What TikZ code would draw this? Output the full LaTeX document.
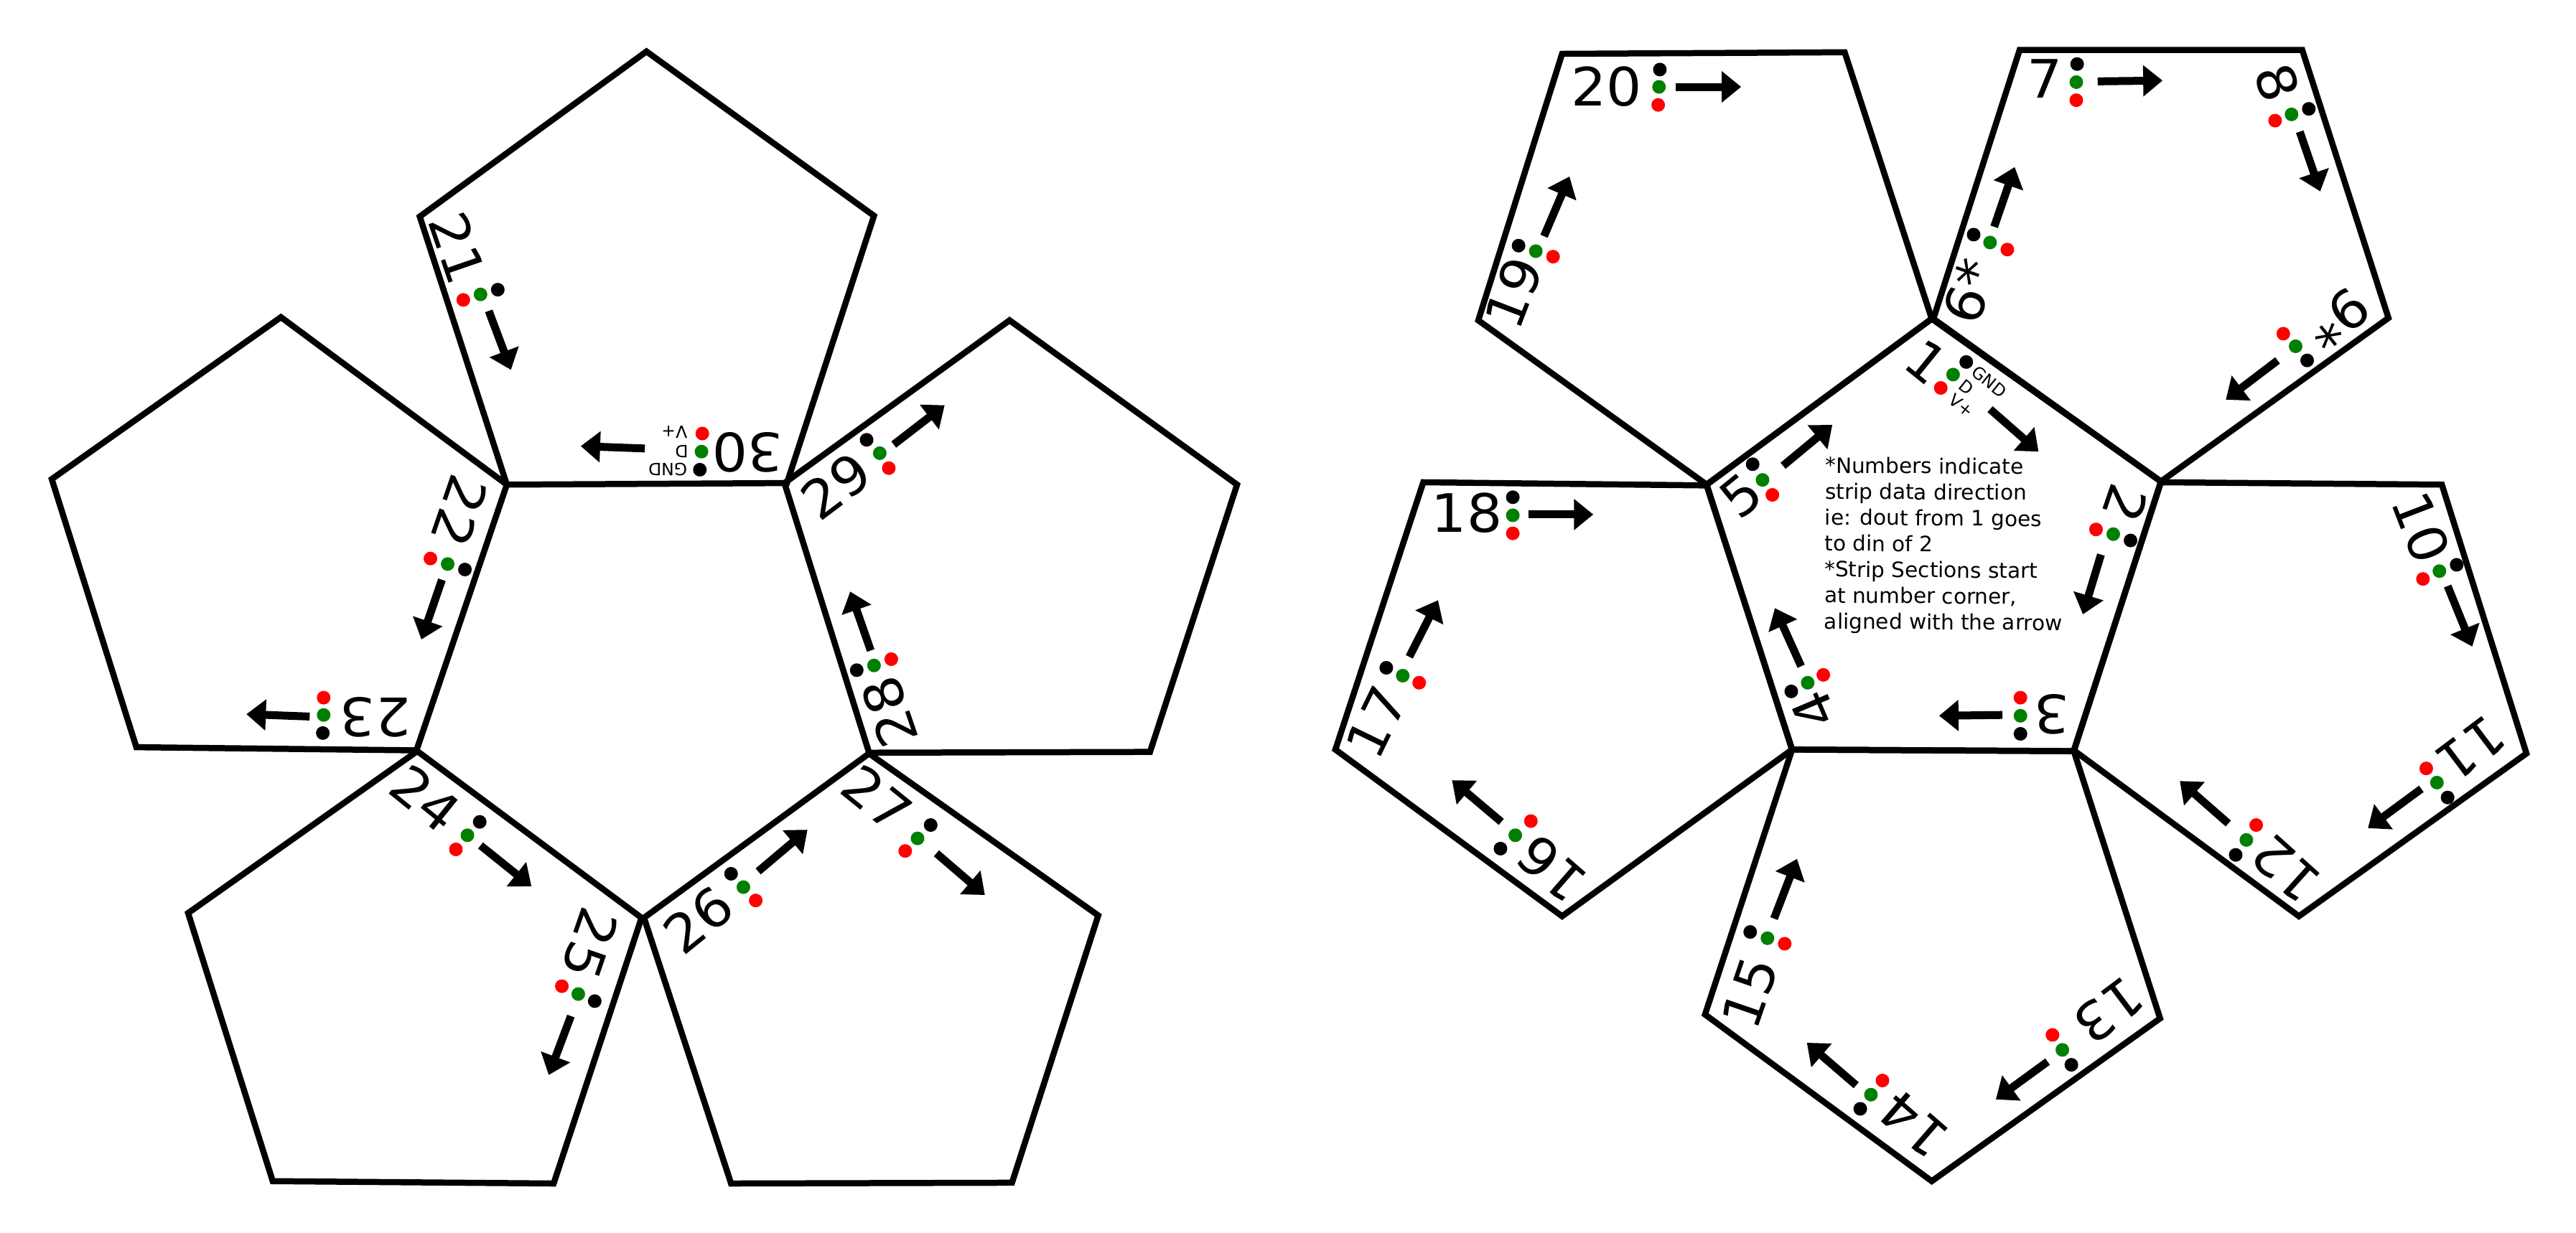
\documentclass[tikz,border=0pt]{standalone}
\usepackage{fontspec}
\setmainfont{DejaVu Sans}
\newfontfamily\numfont[FakeStretch=1.05]{DejaVu Sans}
\usetikzlibrary{arrows.meta}
\tikzset{
  pent/.style={draw=black,line width=0.085cm,line join=miter,fill=none},
  numtxt/.style={inner sep=0pt,font=\numfont\fontsize{21}{25}\selectfont},
  dotb/.style={circle,inner sep=0pt,minimum size=0.19cm,fill=black},
  dotg/.style={circle,inner sep=0pt,minimum size=0.19cm,fill=green!50!black},
  dotr/.style={circle,inner sep=0pt,minimum size=0.19cm,fill=red},
  dirarrow/.style={line width=0.11cm,-{Triangle[length=0.27cm,width=0.42cm]}},
  pinlbl/.style={inner sep=0pt,font=\fontsize{6.7}{8}\selectfont},
  notetxt/.style={inner sep=0pt,align=left,anchor=north west,rotate=-0.4,
    font=\fontsize{8.4}{10.3}\selectfont}
}
\newcommand{\grp}[9]{%
  \node[numtxt,rotate=#2] (num#9) at (#3) {#1};
  \node[dotg] (g#9) at (#4) {};
  \node[dotb] (b#9) at (#5) {};
  \node[dotr] (r#9) at (#6) {};
  \coordinate (s#9) at (#7);
  \coordinate (e#9) at (#8);
  \draw[dirarrow] (s#9) -- (e#9);
}
\begin{document}
\begin{tikzpicture}[x=0.0114413cm,y=-0.010962cm]
\path[fill=white,use as bounding box] (0,-0.5) rectangle (3136,1567.6);
% left net
\begin{scope}
\draw[pent] (787,65) -- (1064,274) -- (958,614) -- (617,616) -- (511,275) -- cycle;
\draw[pent] (342,403) -- (617,616) -- (507,954) -- (166,950) -- (63,609) -- cycle;
\draw[pent] (1229,407) -- (1506,616) -- (1400,956) -- (1058,957) -- (955,614) -- cycle;
\draw[pent] (508,955) -- (781,1167) -- (674,1505) -- (332,1502) -- (229,1161) -- cycle;
\draw[pent] (1058,958) -- (1337,1164) -- (1232,1504) -- (890,1505) -- (784,1167) -- cycle;
\grp{21}{-71}{557,315}{585,374}{606,368}{564,381}{595,395}{622,470}{L21}
\grp{22}{-109}{560,650}{545,717}{566,724}{524,710}{538,737}{513,813}{L22}
\grp{23}{180}{457,912}{394,909}{393,932}{394,887}{377,911}{300,908}{L23}
\grp{24}{-39}{518,1015}{569,1062}{584,1045}{555,1080}{585,1075}{647,1127}{L24}
\grp{25}{-109}{718,1200}{704,1264}{724,1273}{684,1254}{695,1292}{668,1367}{L25}
\grp{26}{39}{850,1170}{905,1128}{890,1111}{920,1145}{923,1108}{983,1055}{L26}
\grp{27}{-39}{1068,1015}{1117,1066}{1133,1049}{1102,1082}{1140,1085}{1199,1138}{L27}
\grp{28}{109}{1083,905}{1064,846}{1043,852}{1085,838}{1060,827}{1035,752}{L28}
\grp{29}{37}{1018,618}{1071,576}{1055,559}{1082,595}{1088,565}{1150,515}{L29}
\grp{30}{180}{910,575}{854,574}{852,597}{855,551}{785,570}{707,567}{L30}
\node[pinlbl,rotate=180] (gndL) at (813,597) {GND};
\node[pinlbl,rotate=180] (dL) at (830,574) {D};
\node[pinlbl,rotate=180] (vL) at (821,549) {V+};
\end{scope}
% right net
\begin{scope}[xshift=17.94cm]
\draw[pent] (334,68) -- (678,66) -- (784,405) -- (510,616) -- (232,407) -- cycle;
\draw[pent] (891,63) -- (1235,63) -- (1340,404) -- (1063,612) -- (786,405) -- cycle;
\draw[pent] (1063,613) -- (1405,616) -- (1508,958) -- (1231,1165) -- (957,954) -- cycle;
\draw[pent] (957,955) -- (1062,1295) -- (784,1502) -- (508,1290) -- (614,953) -- cycle;
\draw[pent] (165,613) -- (510,617) -- (614,953) -- (334,1165) -- (58,953) -- cycle;
\draw[pent] (784,405) -- (1063,612) -- (957,955) -- (614,953) -- (510,616) -- cycle;
\grp{1}{-39}{778,460}{810,476}{826,460}{795,493}{855,520}{914,574}{R1}
\grp{2}{-109}{1020,640}{1005,679}{1026,687}{984,673}{990,705}{968,781}{R2}
\grp{3}{180}{930,908}{892,910}{892,933}{892,887}{870,909}{793,910}{R3}
\grp{4}{113}{640,903}{633,868}{613,879}{652,858}{625,847}{593,773}{R4}
\grp{5}{39}{552,630}{578,610}{566,590}{590,629}{603,592}{663,540}{R5}
\grp{6*}{71}{830,370}{855,308}{835,298}{876,317}{860,288}{885,212}{R6}
\grp{7}{0}{922,100}{960,104}{961,81}{960,127}{986,103}{1065,102}{R7}
\grp{8}{-71}{1205,105}{1222,145}{1243,138}{1202,153}{1232,167}{1257,243}{R8}
\grp{9*}{219}{1278,405}{1227,440}{1241,458}{1212,424}{1205,458}{1142,508}{R9}
\grp{10}{-69}{1380,670}{1402,726}{1423,718}{1382,736}{1412,745}{1442,822}{R10}
\grp{11}{217}{1440,952}{1399,995}{1412,1014}{1386,977}{1380,1003}{1315,1053}{R11}
\grp{12}{138}{1215,1105}{1167,1068}{1154,1087}{1179,1049}{1145,1047}{1086,993}{R12}
\grp{13}{217}{1000,1285}{943,1335}{954,1354}{931,1316}{925,1350}{862,1398}{R13}
\grp{14}{139}{762,1430}{710,1392}{697,1410}{724,1374}{692,1380}{632,1326}{R14}
\grp{15}{71}{563,1262}{584,1193}{563,1185}{605,1200}{592,1168}{620,1092}{R15}
\grp{16}{139}{322,1105}{277,1062}{259,1079}{296,1044}{260,1045}{200,992}{R16}
\grp{17}{64}{108,918}{140,859}{120,849}{160,868}{148,835}{183,763}{R17}
\grp{18}{0}{218,652}{274,655}{274,632}{274,678}{293,654}{372,654}{R18}
\grp{19}{69}{275,372}{302,319}{281,312}{323,326}{312,300}{343,224}{R19}
\grp{20}{0}{388,110}{452,110}{453,88}{451,133}{472,110}{552,110}{R20}
\node[pinlbl,rotate=-39] (gndR) at (854,485) {GND};
\node[pinlbl,rotate=-39] (dR) at (826,492) {D};
\node[pinlbl,rotate=-39] (vR) at (820,515) {V+};
\node[notetxt] (note) at (654,580) {*Numbers indicate\\strip data direction\\ie: dout from 1 goes\\to din of 2\\*Strip Sections start\\at number corner,\\aligned with the arrow};
\end{scope}
\end{tikzpicture}
\end{document}
